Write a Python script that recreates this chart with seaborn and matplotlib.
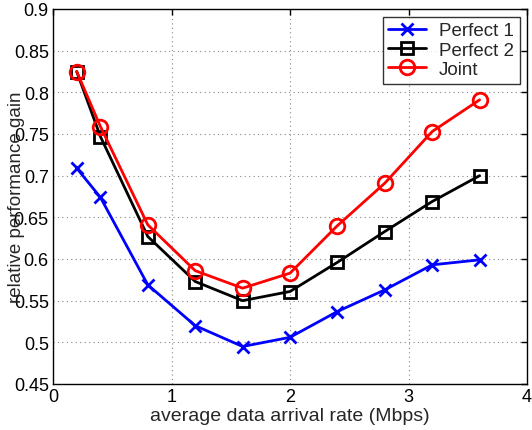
import matplotlib
matplotlib.use("Agg")
import matplotlib.pyplot as plt
import seaborn as sns
import pandas as pd

# Average data arrival rate (Mbps)
rate = [0.2, 0.4, 0.8, 1.2, 1.6, 2.0, 2.4, 2.8, 3.2, 3.6]

# Relative performance gain for each scheme
perfect1 = [0.709, 0.674, 0.569, 0.520, 0.495, 0.506, 0.537, 0.563, 0.593, 0.599]
perfect2 = [0.825, 0.747, 0.627, 0.573, 0.550, 0.561, 0.596, 0.633, 0.669, 0.700]
joint = [0.825, 0.759, 0.641, 0.586, 0.565, 0.583, 0.640, 0.691, 0.753, 0.791]

series_names = ["Perfect 1", "Perfect 2", "Joint"]
x_ticks = [0, 1, 2, 3, 4]
y_ticks = [0.45, 0.5, 0.55, 0.6, 0.65, 0.7, 0.75, 0.8, 0.85, 0.9]

df = pd.DataFrame({
    "rate": rate * 3,
    "gain": perfect1 + perfect2 + joint,
    "scheme": [n for n in series_names for _ in rate],
})

sns.set_style("white")
plt.rcParams["font.family"] = ["Liberation Sans", "DejaVu Sans"]

fig = plt.figure(figsize=(5.32, 4.31), dpi=100)
ax = fig.add_axes([53 / 532, 1 - 385 / 431, 474 / 532, 375 / 431])

colors = {"Perfect 1": "#0000ff", "Perfect 2": "#000000", "Joint": "#ff0000"}
markers = {"Perfect 1": "x", "Perfect 2": "s", "Joint": "o"}
msizes = {"Perfect 1": 9, "Perfect 2": 8.5, "Joint": 10.5}

for name in series_names:
    sub = df[df["scheme"] == name]
    sns.lineplot(
        data=sub, x="rate", y="gain", ax=ax, color=colors[name],
        marker=markers[name], markersize=msizes[name],
        markerfacecolor="none", markeredgecolor=colors[name],
        markeredgewidth=2, linewidth=2, label=name,
    )

ax.set_xlim(0, 4)
ax.set_ylim(0.45, 0.9)
ax.set_xticks(x_ticks)
ax.set_xticklabels([str(t) for t in x_ticks])
ax.set_yticks(y_ticks)
ax.set_yticklabels([f"{t:g}" for t in y_ticks])
ax.grid(True, linestyle=(0, (1, 3)), color="#888888", linewidth=0.8)
ax.tick_params(direction="in", length=4, width=1, labelsize=13, colors="black",
               top=True, right=True, pad=3)
for s in ax.spines.values():
    s.set_color("black")
    s.set_linewidth(1)

ax.set_xlabel("average data arrival rate (Mbps)", fontsize=14, labelpad=1)
ax.set_ylabel("relative performance gain", fontsize=13.5)
ax.yaxis.set_label_coords(-0.06, 0.5)

leg = ax.legend(loc="upper right", fontsize=13.5, frameon=True, fancybox=False,
                edgecolor="black", borderpad=0.3, handlelength=2.0,
                handletextpad=0.7, labelspacing=0.12, borderaxespad=0.4)
leg.get_frame().set_linewidth(1)

fig.savefig("out.png", dpi=100, facecolor="white")
